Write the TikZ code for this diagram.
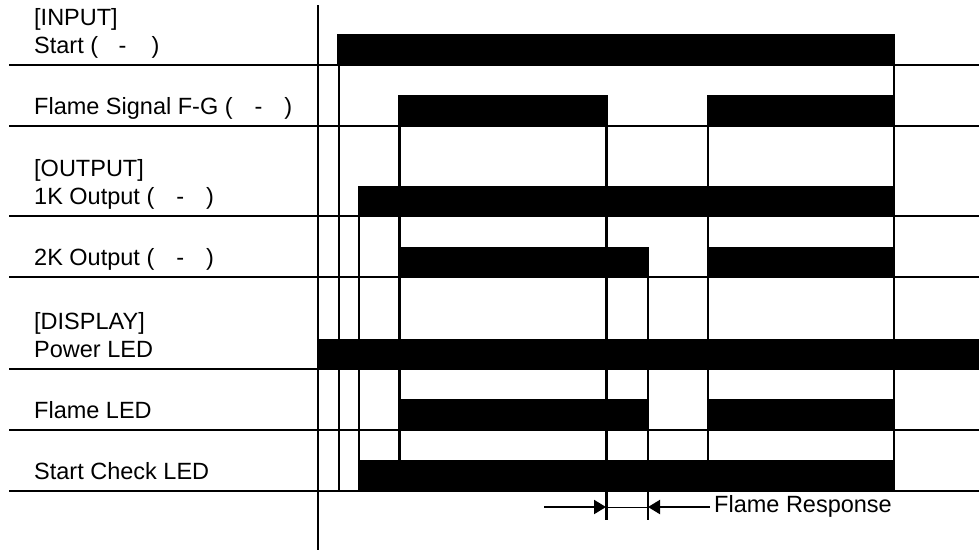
\documentclass[tikz,border=0pt]{standalone}
\usepackage{fontspec}
\setmainfont{Liberation Sans}
\usetikzlibrary{arrows.meta}
\begin{document}
\begin{tikzpicture}[x=1pt,y=-1pt,
  lbl/.style={anchor=base west,inner sep=0pt,font=\fontsize{23.5}{28}\selectfont},
  rowline/.style={line width=2.6pt},
  bar/.style={fill=black,draw=none},
  edge/.style={line width=2pt},
  edgeb/.style={line width=3pt},
  edget/.style={line width=1.6pt},
  dimarrow/.style={line width=2pt,-{Triangle[length=12pt,width=14pt]}},
  dimthin/.style={line width=0.8pt}]
\useasboundingbox (0,0) rectangle (979,550);
% labels
\def\gap{\hspace{22pt}}
\node[lbl] (linput) at (34,25) {[INPUT]};
\node[lbl] (lstart) at (34,53) {Start (\hspace{20.5pt}-\hspace{25pt})};
\node[lbl] (lflame) at (34,114) {Flame Signal F-G (\gap-\gap)};
\node[lbl] (loutput) at (34,176) {[OUTPUT]};
\node[lbl] (l1k) at (34,204) {1K Output (\gap-\gap)};
\node[lbl] (l2k) at (34,265) {2K Output (\gap-\gap)};
\node[lbl] (ldisp) at (34,329) {[DISPLAY]};
\node[lbl] (lpow) at (34,357) {Power LED};
\node[lbl] (lfled) at (34,418) {Flame LED};
\node[lbl] (lscl) at (34,479) {Start Check LED};
% bars
\fill[bar] (337,34) rectangle (895,65);
\fill[bar] (398,95) rectangle (607,126);
\fill[bar] (708,95) rectangle (895,126);
\fill[bar] (358,186) rectangle (895,216);
\fill[bar] (401,247) rectangle (648,277);
\fill[bar] (708,247) rectangle (895,277);
\fill[bar] (318,339) rectangle (979,369);
\fill[bar] (401,399) rectangle (648,430);
\fill[bar] (708,399) rectangle (895,430);
\fill[bar] (358,460) rectangle (895,491);
% row lines
\foreach \y in {65,126,216,277,369,430,491}
  \draw[rowline] (9,\y) -- (979,\y);
% main axis
\draw[rowline] (318,5) -- (318,550);
% edges
\draw[edge] (338.5,34) -- (338.5,491);
\draw[edge] (358.5,186) -- (358.5,491);
\draw[edgeb] (399.5,95) -- (399.5,491);
\draw[edgeb] (606,95) -- (606,520);
\draw[edge] (648,247) -- (648,520);
\draw[edget] (708,95) -- (708,491);
\draw[edget] (894,34) -- (894,491);
% flame response
\coordinate (fa) at (544,507);
\coordinate (fb) at (606,507);
\coordinate (fc) at (648,507);
\coordinate (fd) at (710,507);
\draw[dimarrow] (fa) -- (fb);
\draw[dimarrow] (fd) -- (fc);
\draw[dimthin] (fb) -- (fc);
\node[lbl] (lresp) at (714,512) {Flame Response};
\end{tikzpicture}
\end{document}
